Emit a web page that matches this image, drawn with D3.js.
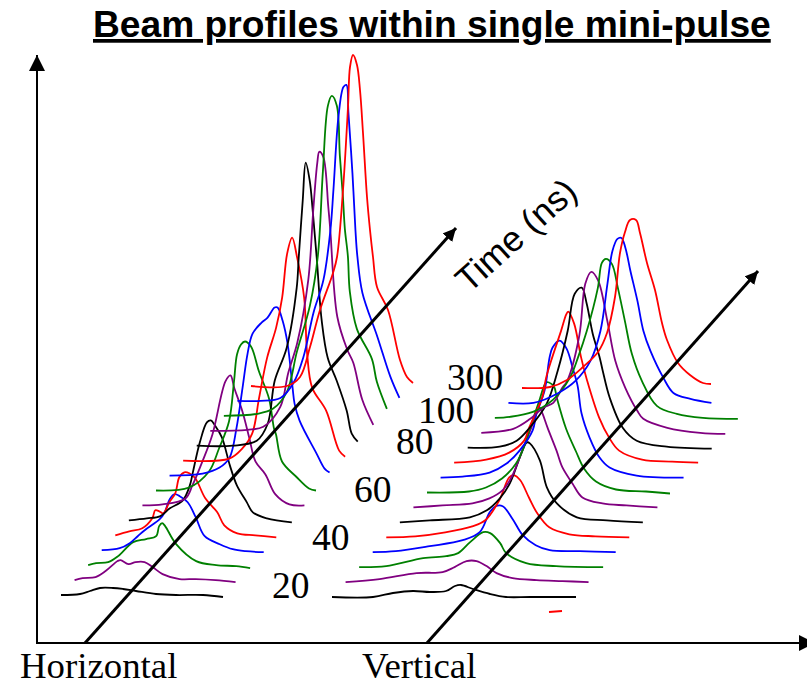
<!DOCTYPE html>
<html>
<head>
<meta charset="utf-8">
<style>html,body{margin:0;padding:0;background:#fff;overflow:hidden}svg{display:block}</style>
<script src="https://cdn.jsdelivr.net/npm/d3@7/dist/d3.min.js"></script>
</head>
<body>
<svg id="chart" width="807" height="683"></svg>
<script>
// ---------- data: each profile is a list of [beam position, intensity]
const chartTitle = "Beam profiles within single mini-pulse";
const timeAxisTitle = "Time (ns)";
const planeNames = ["Horizontal", "Vertical"];
const timeLabels = ["20", "40", "60", "80", "100", "300"];
const profileColors = ["black","purple","green","blue","red","black","purple","green","blue","red","black","purple","green","blue","red"];

const horizontalProfiles = [
 [[0,0],[19,1],[29,4],[39,7],[52,7],[62,6],[75,4],[95,1],[115,0],[142,0],[162,-2]],
 [[0,0],[8,2],[21,3],[31,9],[43,19],[46,20],[54,16],[61,18],[70,18],[78,13],[88,6],[105,1],[121,1],[141,0],[161,-2]],
 [[0,0],[8,2],[20,3],[30,9],[45,23],[58,26],[68,29],[71,39],[74,42],[77,39],[88,21],[108,4],[128,0],[148,-1],[162,-3]],
 [[0,0],[18,2],[28,7],[36,14],[43,20],[58,31],[63,38],[68,51],[73,56],[78,54],[86,48],[94,33],[103,14],[118,6],[131,1],[144,-1],[162,-2]],
 [[0,0],[14,4],[27,7],[37,17],[40,25],[44,24],[48,22],[54,33],[60,42],[64,58],[69,63],[74,62],[80,57],[90,37],[102,23],[109,10],[122,2],[140,0],[161,-2]],
 [[0,0],[18,2],[31,4],[41,12],[54,20],[61,35],[64,48],[71,78],[78,98],[82,100],[86,95],[93,83],[101,55],[108,35],[118,18],[124,8],[138,2],[163,-2]],
 [[0,0],[20,1],[43,7],[50,20],[60,44],[70,71],[83,124],[88,130],[92,117],[100,94],[107,67],[113,44],[123,31],[133,11],[147,1],[162,0]],
 [[0,0],[33,3],[53,19],[63,42],[73,69],[78,109],[81,136],[85,146],[89,149],[95,144],[103,119],[113,92],[118,62],[120,56],[126,29],[140,14],[153,2],[160,0]],
 [[0,0],[33,2],[50,8],[60,18],[67,48],[73,88],[78,122],[83,142],[92,153],[98,158],[105,168],[108,168],[113,155],[118,132],[123,88],[125,72],[130,55],[147,22],[155,7],[160,3]],
 [[0,0],[46,2],[59,12],[69,27],[76,63],[84,103],[93,133],[99,163],[104,207],[109,223],[114,203],[121,163],[124,107],[129,73],[143,50],[156,10],[162,4]],
 [[0,0],[36,0],[60,5],[71,22],[78,65],[90,98],[100,158],[102,188],[106,245],[109,283],[113,265],[116,235],[120,188],[125,125],[131,88],[140,65],[150,35],[155,12],[161,4]],
 [[0,0],[37,1],[53,4],[70,24],[78,58],[87,88],[98,151],[103,221],[107,268],[109,279],[113,274],[118,224],[120,201],[127,114],[137,81],[143,68],[152,31],[163,6]],
 [[0,0],[33,2],[49,7],[63,24],[73,64],[86,110],[94,160],[99,244],[104,310],[108,320],[113,310],[116,260],[119,220],[121,187],[124,160],[126,124],[133,87],[148,57],[153,34],[163,7]],
 [[0,0],[23,0],[43,3],[56,18],[66,44],[76,88],[86,121],[93,171],[96,211],[101,284],[106,314],[109,316],[111,288],[115,228],[118,171],[120,144],[125,108],[140,64],[153,24],[162,3]],
 [[0,0],[36,0],[49,9],[59,39],[69,76],[82,113],[86,129],[92,196],[97,279],[99,319],[102,331],[106,321],[109,296],[112,253],[116,189],[119,156],[122,129],[126,99],[137,76],[149,26],[156,9],[162,3]]
];

const verticalProfiles = [
 [[0,0],[41,0],[61,4],[81,6],[98,5],[114,6],[123,11],[129,12],[141,8],[158,3],[174,0],[198,0],[244,0]],
 [[0,0],[34,3],[71,9],[97,10],[109,15],[121,21],[131,21],[141,16],[151,9],[167,4],[191,2],[217,1],[243,0]],
 [[0,0],[27,1],[64,9],[87,11],[99,14],[111,25],[124,35],[131,34],[141,24],[147,14],[167,4],[197,1],[244,0]],
 [[0,0],[23,1],[57,6],[90,12],[107,20],[117,40],[123,46],[130,46],[140,33],[150,17],[163,7],[177,2],[207,1],[243,0]],
 [[0,0],[29,1],[59,5],[86,11],[99,17],[113,37],[123,60],[128,62],[134,57],[143,39],[151,24],[163,10],[183,3],[209,1],[243,0]],
 [[0,0],[30,2],[70,5],[87,12],[100,24],[110,39],[120,65],[127,80],[130,79],[140,62],[147,35],[157,19],[177,5],[207,2],[243,0]],
 [[0,0],[29,2],[59,4],[76,9],[89,17],[98,30],[110,60],[118,80],[126,100],[129,94],[134,80],[143,57],[149,40],[159,24],[169,10],[189,4],[213,2],[244,0]],
 [[0,0],[42,1],[59,5],[75,14],[89,29],[99,51],[102,61],[112,91],[119,110],[122,110],[127,106],[130,94],[139,64],[149,41],[157,24],[169,11],[189,3],[219,1],[243,-1]],
 [[0,0],[22,1],[49,5],[66,14],[79,27],[92,47],[96,64],[104,87],[109,120],[112,130],[119,137],[126,129],[132,110],[137,92],[141,64],[149,40],[159,20],[169,10],[196,2],[243,0]],
 [[0,0],[32,3],[55,10],[70,22],[75,35],[88,65],[92,85],[98,105],[107,132],[112,148],[114,151],[120,139],[127,105],[133,82],[145,45],[155,25],[165,12],[188,3],[218,1],[244,0]],
 [[0,0],[32,1],[49,7],[62,20],[79,44],[90,77],[100,117],[107,154],[114,160],[119,144],[125,114],[132,90],[135,77],[142,50],[155,20],[169,7],[199,1],[244,-1]],
 [[0,0],[32,4],[49,14],[62,25],[72,30],[81,45],[86,52],[98,97],[104,149],[110,161],[117,152],[126,112],[134,72],[144,45],[156,22],[162,14],[186,5],[219,0],[244,-1]],
 [[0,0],[15,1],[38,6],[58,18],[75,40],[83,60],[92,87],[103,130],[107,155],[111,159],[117,154],[123,130],[130,97],[137,64],[147,37],[162,12],[182,4],[208,0],[243,-1]],
 [[0,0],[25,0],[50,10],[67,22],[82,42],[92,72],[99,119],[104,152],[109,164],[113,165],[117,155],[122,132],[129,102],[135,72],[142,52],[155,25],[165,10],[182,4],[203,0]],
 [[0,0],[28,1],[45,8],[61,21],[76,36],[85,55],[93,91],[98,135],[103,156],[108,168],[114,168],[118,155],[125,125],[133,98],[140,65],[145,48],[156,25],[168,13],[181,5],[189,4]]
];

// ---------- scales and layout
const svg = d3.select("#chart");
const posScale = d3.scaleLinear().domain([0, 245]).range([0, 245]);
const intensityScale = d3.scaleLinear().domain([0, 340]).range([0, -340]);
const stepScale = d3.scaleLinear().domain([0, 14]);
const layouts = [
  {profiles: horizontalProfiles, sx: [61, 251], sy: [595, 386]},
  {profiles: verticalProfiles,   sx: [332, 522], sy: [597, 388]}
];

layouts.forEach(({profiles, sx, sy}) => {
  const ox = stepScale.copy().range(sx), oy = stepScale.copy().range(sy);
  profiles.forEach((profile, i) => {
    const line = d3.line()
      .x(d => ox(i) + posScale(d[0]))
      .y(d => oy(i) + intensityScale(d[1]))
      .curve(d3.curveCatmullRom.alpha(0.5));
    svg.append("path").attr("d", line(profile))
      .attr("fill", "none").attr("stroke", profileColors[i])
      .attr("stroke-width", 1.8).attr("stroke-linejoin", "round");
  });
});

// stray red fragment beneath the vertical profiles
svg.append("path").attr("d", d3.line()([[549, 612], [562, 611]]))
  .attr("fill", "none").attr("stroke", "red").attr("stroke-width", 1.8);

// ---------- axes
const defs = svg.append("defs");
function head(id, w, h) {
  defs.append("marker").attr("id", id).attr("viewBox", `0 0 ${h} ${w}`)
    .attr("refX", h).attr("refY", w / 2).attr("markerWidth", h).attr("markerHeight", w)
    .attr("markerUnits", "userSpaceOnUse").attr("orient", "auto")
    .append("path").attr("d", `M0,0L${h},${w / 2}L0,${w}Z`).attr("fill", "#000");
}
head("ax", 16, 16);
head("dg", 13, 13);

function arrow(x1, y1, x2, y2, w, m) {
  svg.append("line").attr("x1", x1).attr("y1", y1).attr("x2", x2).attr("y2", y2)
    .attr("stroke", "#000").attr("stroke-width", w).attr("marker-end", `url(#${m})`);
}
arrow(37, 644, 37, 55, 2, "ax");
arrow(36, 643, 815, 643, 2, "ax");
arrow(85, 643, 456, 228, 3, "dg");
arrow(427, 643, 758, 271, 3, "dg");

// ---------- text
const serif = "'Liberation Serif','Times New Roman',serif";
const sans = "'Liberation Sans',Arial,sans-serif";

svg.append("text").attr("x", 93).attr("y", 37).text(chartTitle)
  .attr("font-family", sans).attr("font-weight", "bold").attr("font-size", 37.2)
  .attr("text-decoration", "underline").attr("fill", "#000");

svg.append("text").text(timeAxisTitle)
  .attr("transform", "translate(469,294) rotate(-42)")
  .attr("font-family", sans).attr("font-size", 35.5).attr("fill", "#000");

const planeAnchors = [[20, 678], [362, 678]];
planeNames.forEach((n, i) => svg.append("text")
  .attr("x", planeAnchors[i][0]).attr("y", planeAnchors[i][1]).text(n)
  .attr("font-family", serif).attr("font-size", 36.8).attr("fill", "#000"));

const labelAnchors = [[272, 598], [312, 550], [354, 502], [396, 454], [418, 423], [447, 390]];
timeLabels.forEach((n, i) => svg.append("text")
  .attr("x", labelAnchors[i][0]).attr("y", labelAnchors[i][1]).text(n)
  .attr("font-family", serif).attr("font-size", 37.5).attr("fill", "#000"));
</script>
</body>
</html>
